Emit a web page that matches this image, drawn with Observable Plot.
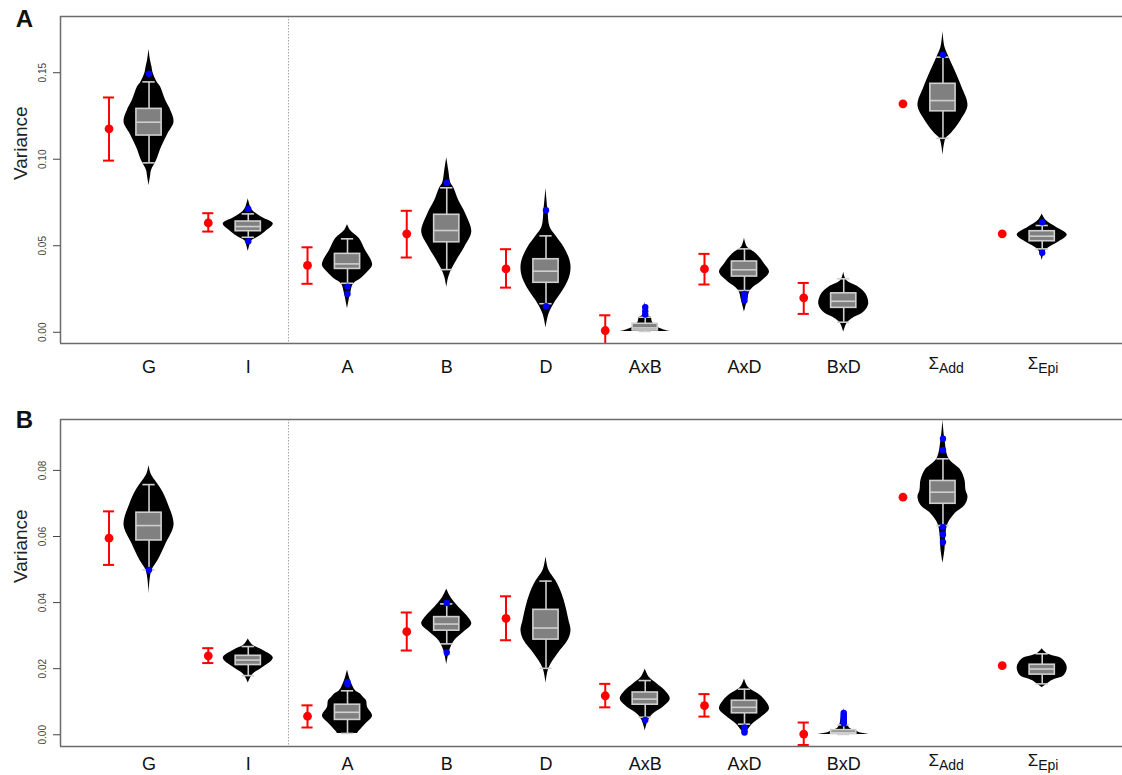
<!DOCTYPE html>
<html><head><meta charset="utf-8">
<script src="https://cdn.jsdelivr.net/npm/d3@7"></script>
<script src="https://cdn.jsdelivr.net/npm/@observablehq/plot@0.6"></script>
<style>
body{margin:0;background:#fff;font-family:"Liberation Sans",Arial,sans-serif;}
#chart svg{display:block;}
</style></head><body><div id="chart"></div>
<script>
// ---------- data ----------
const categories = ["G","I","A","B","D","AxB","AxD","BxD","ΣAdd","ΣEpi"];
const labelMain  = ["G","I","A","B","D","AxB","AxD","BxD","Σ","Σ"];
const labelSub   = ["","","","","","","","","Add","Epi"];
const dividerAt = 2.405;

// Panel A
const ticksA = [0.00, 0.05, 0.10, 0.15];
const estA   = [0.1176, 0.0632, 0.0386, 0.0569, 0.0366, 0.0010, 0.0366, 0.0199, 0.1320, 0.0569];
const estLoA = [0.0992, 0.0582, 0.0280, 0.0432, 0.0258, -0.0078, 0.0276, 0.0106, null, null];
const estHiA = [0.1357, 0.0688, 0.0491, 0.0702, 0.0480, 0.0098, 0.0453, 0.0285, null, null];
const wLoA   = [0.0979, 0.0549, 0.0283, 0.0362, 0.0165, 0.0005, 0.0241, 0.0058, 0.1121, 0.0482];
const q1A    = [0.1137, 0.0584, 0.0366, 0.0520, 0.0286, 0.0010, 0.0322, 0.0141, 0.1277, 0.0526];
const medA   = [0.1214, 0.0611, 0.0395, 0.0588, 0.0353, 0.0025, 0.0361, 0.0179, 0.1339, 0.0555];
const q3A    = [0.1291, 0.0640, 0.0453, 0.0679, 0.0422, 0.0049, 0.0409, 0.0225, 0.1436, 0.0584];
const wHiA   = [0.1447, 0.0684, 0.0540, 0.0835, 0.0557, 0.0087, 0.0482, 0.0309, 0.1590, 0.0617];
const outliersA = [["G",0.1494],["I",0.0713],["I",0.0526],["A",0.0264],["A",0.0222],["B",0.0864],
  ["D",0.0705],["D",0.0150],["AxB",0.0145],["AxB",0.0121],["AxB",0.0102],
  ["AxD",0.0222],["AxD",0.0203],["AxD",0.0183],["ΣAdd",0.1603],["ΣEpi",0.0636],["ΣEpi",0.0459]];
// violin density profiles: [value, relative density]
const violinsA = {
  "G":   [[0.0848,0],[0.0900,1.5],[0.0935,2.5],[0.0992,7.5],[0.1069,12.5],[0.1147,19],[0.1214,25],[0.1282,21.7],[0.1339,16.7],[0.1416,11.7],[0.1447,8],[0.1500,4],[0.1532,3],[0.1570,1.5],[0.1634,0]],
  "I":   [[0.0468,0],[0.0500,1.5],[0.0526,3],[0.0550,10],[0.0580,17],[0.0627,25],[0.0660,15],[0.0700,5],[0.0730,2],[0.0771,0]],
  "A":   [[0.0135,0],[0.0222,3],[0.0279,6],[0.0308,13],[0.0347,20],[0.0385,25],[0.0414,24],[0.0473,18],[0.0540,12],[0.0588,3],[0.0623,0]],
  "B":   [[0.0260,0],[0.0318,2],[0.0362,5],[0.0415,10],[0.0492,18],[0.0579,25],[0.0684,19],[0.0761,12],[0.0835,7],[0.0864,4],[0.0935,2],[0.1008,0]],
  "D":   [[0.0025,0],[0.0106,3],[0.0164,8],[0.0241,17],[0.0308,23],[0.0366,25],[0.0415,24],[0.0492,18],[0.0557,10],[0.0609,4],[0.0705,2],[0.0832,0]],
  "AxB": [[0.0005,25],[0.0015,18],[0.0030,12],[0.0045,9],[0.0060,7],[0.0085,6],[0.0095,3],[0.0120,1.5],[0.0173,0]],
  "AxD": [[0.0116,0],[0.0183,3],[0.0241,6],[0.0299,18],[0.0347,25],[0.0395,20],[0.0453,12],[0.0491,3],[0.0543,0]],
  "BxD": [[0.0000,0],[0.0048,3],[0.0077,8],[0.0116,20],[0.0164,25],[0.0222,22],[0.0260,15],[0.0299,3],[0.0347,0]],
  "ΣAdd":[[0.1021,0],[0.1118,3],[0.1147,8],[0.1224,18],[0.1310,25],[0.1416,19],[0.1513,12],[0.1590,6],[0.1647,2],[0.1738,0]],
  "ΣEpi":[[0.0414,0],[0.0456,2],[0.0482,5],[0.0520,16],[0.0563,25],[0.0607,14],[0.0646,4],[0.0684,0]]
};

// Panel B
const ticksB = [0.00, 0.02, 0.04, 0.06, 0.08];
const estB   = [0.0595, 0.0239, 0.0056, 0.0312, 0.0352, 0.0118, 0.0088, 0.0002, 0.0719, 0.0209];
const estLoB = [0.0514, 0.0217, 0.0022, 0.0255, 0.0286, 0.0083, 0.0055, -0.0031, null, null];
const estHiB = [0.0676, 0.0262, 0.0089, 0.0370, 0.0419, 0.0154, 0.0123, 0.0037, null, null];
const wLoB   = [0.0499, 0.0179, 0.0004, 0.0275, 0.0201, 0.0053, 0.0032, 0.0001, 0.0633, 0.0154];
const q1B    = [0.0588, 0.0211, 0.0045, 0.0315, 0.0288, 0.0091, 0.0065, 0.0002, 0.0699, 0.0182];
const medB   = [0.0633, 0.0226, 0.0068, 0.0335, 0.0323, 0.0108, 0.0083, 0.0007, 0.0734, 0.0199];
const q3B    = [0.0672, 0.0239, 0.0091, 0.0356, 0.0378, 0.0128, 0.0103, 0.0014, 0.0768, 0.0212];
const wHiB   = [0.0757, 0.0267, 0.0133, 0.0396, 0.0465, 0.0164, 0.0138, 0.0030, 0.0835, 0.0245];
const outliersB = [["G",0.0499],["A",0.0154],["A",0.0159],["B",0.0399],["B",0.0249],["AxB",0.0045],
  ["AxD",0.0022],["AxD",0.0012],["AxD",0.0007],
  ["BxD",0.0066],["BxD",0.0060],["BxD",0.0055],["BxD",0.0050],["BxD",0.0045],["BxD",0.0040],["BxD",0.0035],
  ["ΣAdd",0.0896],["ΣAdd",0.0861],["ΣAdd",0.0628],["ΣAdd",0.0606],["ΣAdd",0.0583]];
const violinsB = {
  "G":   [[0.0426,0],[0.0467,1],[0.0498,3],[0.0527,9],[0.0578,17],[0.0635,25],[0.0699,19],[0.0739,13],[0.0770,6],[0.0790,2],[0.0815,0]],
  "I":   [[0.0156,0],[0.0170,2],[0.0184,5],[0.0204,15],[0.0232,25],[0.0255,15],[0.0270,5],[0.0280,2],[0.0290,0]],
  "A":   [[0.0004,10],[0.0012,12],[0.0032,18],[0.0056,25],[0.0083,20],[0.0103,19],[0.0113,16],[0.0123,13],[0.0133,8],[0.0164,3],[0.0196,0]],
  "B":   [[0.0212,0],[0.0255,3],[0.0285,8],[0.0310,17],[0.0335,25],[0.0361,20],[0.0386,12],[0.0416,4],[0.0441,0]],
  "D":   [[0.0156,0],[0.0201,3],[0.0245,12],[0.0285,22],[0.0315,25],[0.0345,23],[0.0386,20],[0.0426,16],[0.0465,10],[0.0497,3],[0.0539,0]],
  "AxB": [[0.0012,0],[0.0042,3],[0.0063,8],[0.0083,18],[0.0108,25],[0.0133,20],[0.0154,12],[0.0174,4],[0.0199,0]],
  "AxD": [[0.0002,0],[0.0017,4],[0.0032,8],[0.0053,17],[0.0078,25],[0.0103,21],[0.0123,14],[0.0143,4],[0.0169,0]],
  "BxD": [[0.0001,25],[0.0006,16],[0.0012,12],[0.0020,6],[0.0030,4],[0.0050,2.5],[0.0078,0]],
  "ΣAdd":[[0.0519,0],[0.0560,2],[0.0608,3],[0.0638,5],[0.0669,12],[0.0694,22],[0.0719,25],[0.0739,23],[0.0770,22],[0.0800,18],[0.0835,6],[0.0891,2],[0.0952,0]],
  "ΣEpi":[[0.0143,0],[0.0154,5],[0.0164,10],[0.0179,22],[0.0204,25],[0.0229,20],[0.0245,5],[0.0260,0]]
};

// ---------- drawing ----------
const FONT = '"Liberation Sans", Arial, Helvetica, sans-serif';
const xDomain = [0.108, 10.809];
const VW = 0.252, BW = 0.127, CW = 0.062, EW = 0.056, EOFF = 0.403;
const frameColor = "#6b6b6b";
const boxLine = "#cfcfcf";

function makePanel(p) {
  const violinRows = [];
  categories.forEach((c, i) => {
    const prof = p.violins[c];
    const mx = d3.max(prof, d => d[1]);
    prof.forEach(([v, d]) => violinRows.push({cat: c, pos: i + 1, v, w: d / mx * VW}));
  });
  const boxRows = categories.map((c, i) => ({cat: c, pos: i + 1, wLo: p.wLo[i], q1: p.q1[i], med: p.med[i], q3: p.q3[i], wHi: p.wHi[i]}));
  const estRows = categories.map((c, i) => ({pos: i + 1 - EOFF, est: p.est[i], lo: p.estLo[i], hi: p.estHi[i]}));
  const barRows = estRows.filter(d => d.lo != null);
  const outRows = p.outliers.map(([c, v]) => ({pos: categories.indexOf(c) + 1, v}));
  const labRows = categories.map((c, i) => ({pos: i + 1, main: labelMain[i], sub: labelSub[i]}));
  const plainLabs = labRows.filter(d => !d.sub);
  const sigmaLabs = labRows.filter(d => d.sub);

  return Plot.plot({
    width: 1122, height: p.height,
    marginLeft: 60, marginRight: 0, marginTop: p.marginTop, marginBottom: p.marginBottom,
    style: {fontFamily: FONT, background: "white", overflow: "visible"},
    x: {type: "linear", domain: xDomain, axis: null},
    y: {domain: p.yDomain, axis: null},
    marks: [
      Plot.ruleX([dividerAt], {stroke: "#a0a0a0", strokeWidth: 1, strokeDasharray: "1.5,1.5"}),
      Plot.areaX(violinRows, {y: "v", x1: d => d.pos - d.w, x2: d => d.pos + d.w, z: "cat", fill: "black", curve: "catmull-rom", clip: true}),
      Plot.ruleX(boxRows, {x: "pos", y1: "wLo", y2: "wHi", stroke: boxLine, strokeWidth: 1.6}),
      Plot.ruleY(boxRows, {y: "wHi", x1: d => d.pos - CW, x2: d => d.pos + CW, stroke: boxLine, strokeWidth: 1.6}),
      Plot.ruleY(boxRows, {y: "wLo", x1: d => d.pos - CW, x2: d => d.pos + CW, stroke: boxLine, strokeWidth: 1.6}),
      Plot.rect(boxRows, {x1: d => d.pos - BW, x2: d => d.pos + BW, y1: "q1", y2: "q3", fill: "#808080", stroke: boxLine, strokeWidth: 1.6}),
      Plot.ruleY(boxRows, {y: "med", x1: d => d.pos - BW, x2: d => d.pos + BW, stroke: boxLine, strokeWidth: 1.6}),
      Plot.dot(outRows, {x: "pos", y: "v", r: 3.2, fill: "#0000ff", stroke: "none"}),
      Plot.ruleX(barRows, {x: "pos", y1: "lo", y2: "hi", stroke: "#ff0000", strokeWidth: 2, clip: true}),
      Plot.ruleY(barRows, {y: "hi", x1: d => d.pos - EW, x2: d => d.pos + EW, stroke: "#ff0000", strokeWidth: 2, clip: true}),
      Plot.ruleY(barRows, {y: "lo", x1: d => d.pos - EW, x2: d => d.pos + EW, stroke: "#ff0000", strokeWidth: 2, clip: true}),
      Plot.dot(estRows, {x: "pos", y: "est", r: 4.4, fill: "#ff0000", stroke: "none"}),
      Plot.ruleY([p.yDomain[1]], {stroke: frameColor, strokeWidth: 1.5}),
      Plot.ruleY([p.yDomain[0]], {stroke: frameColor, strokeWidth: 1.5}),
      Plot.ruleX([xDomain[0]], {stroke: frameColor, strokeWidth: 1.5}),
      Plot.axisY({ticks: p.ticks, tickFormat: d3.format(".2f"), tickRotate: -90, tickSize: 7, tickPadding: 8,
                  fontSize: 10, color: "#444", label: null}),
      Plot.text(["Variance"], {frameAnchor: "left", dx: -40, rotate: -90, lineAnchor: "middle", fontSize: 19, fill: "#222"}),
      Plot.text([p.letter], {frameAnchor: "top-left", dx: -36, dy: p.letterDy, textAnchor: "middle", lineAnchor: "middle", fontWeight: "bold", fontSize: 24, fill: "#111"}),
      Plot.text(plainLabs, {x: "pos", text: "main", frameAnchor: "bottom", dy: p.labelDy, lineAnchor: "bottom", fontSize: 18, fill: "#111"}),
      Plot.text(sigmaLabs, {x: "pos", text: "main", frameAnchor: "bottom", dx: -4, dy: p.labelDy - 4, lineAnchor: "bottom", textAnchor: "end", fontSize: 17, fill: "#111"}),
      Plot.text(sigmaLabs, {x: "pos", text: "sub", frameAnchor: "bottom", dx: -4, dy: p.labelDy, lineAnchor: "bottom", textAnchor: "start", fontSize: 14, fill: "#111"})
    ]
  });
}

const chart = document.getElementById("chart");
chart.append(makePanel({
  letter: "A", height: 390, marginTop: 16, marginBottom: 47, labelDy: 29, letterDy: 3,
  yDomain: [-0.0065, 0.1825], ticks: ticksA,
  est: estA, estLo: estLoA, estHi: estHiA, wLo: wLoA, q1: q1A, med: medA, q3: q3A, wHi: wHiA,
  outliers: outliersA, violins: violinsA
}));
chart.append(makePanel({
  letter: "B", height: 385, marginTop: 29, marginBottom: 29, labelDy: 23, letterDy: 1,
  yDomain: [-0.00355, 0.0954], ticks: ticksB,
  est: estB, estLo: estLoB, estHi: estHiB, wLo: wLoB, q1: q1B, med: medB, q3: q3B, wHi: wHiB,
  outliers: outliersB, violins: violinsB
}));
</script></body></html>
